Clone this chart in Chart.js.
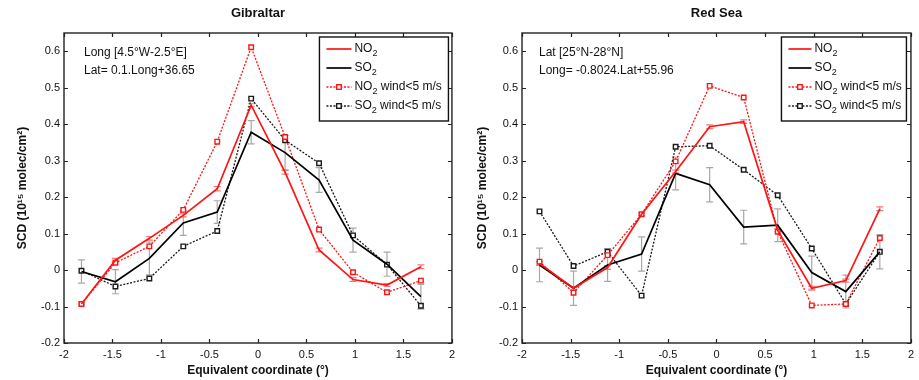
<!DOCTYPE html>
<html>
<head>
<meta charset="utf-8">
<script src="https://cdn.jsdelivr.net/npm/chart.js@4.4.1/dist/chart.umd.min.js"></script>
<style>
  html, body { margin: 0; padding: 0; background: #fff; }
  #wrap { position: relative; width: 919px; height: 380px; }
  canvas { position: absolute; top: 0; }
</style>
</head>
<body>
<div id="wrap">
  <canvas id="c1" width="460" height="380" style="left:0px"></canvas>
  <canvas id="c2" width="459" height="380" style="left:460px"></canvas>
</div>
<script>
// ---------- DATA ----------
const xPos = [-1.82, -1.47, -1.12, -0.77, -0.42, -0.07, 0.28, 0.63, 0.98, 1.33, 1.68];

const xTicks = [-2, -1.5, -1, -0.5, 0, 0.5, 1, 1.5, 2];
const yTicks = [-0.2, -0.1, 0, 0.1, 0.2, 0.3, 0.4, 0.5, 0.6];

const seriesNames = ['NO2', 'SO2', 'NO2 wind<5 m/s', 'SO2 wind<5 m/s'];

// Gibraltar
const gibNO2      = [-0.093, 0.027, 0.087, 0.15, 0.223, 0.452, 0.268, 0.055, -0.026, -0.041, 0.009];
const gibSO2      = [-0.004, -0.032, 0.032, 0.129, 0.159, 0.378, 0.322, 0.247, 0.082, 0.016, -0.073];
const gibNO2wind  = [-0.093, 0.02, 0.065, 0.165, 0.352, 0.611, 0.365, 0.111, -0.006, -0.061, -0.029];
const gibSO2wind  = [-0.002, -0.045, -0.023, 0.065, 0.107, 0.47, 0.356, 0.293, 0.095, 0.015, -0.098];
const gibNO2err   = [0.003, 0.005, 0.005, 0.004, 0.006, 0.004, 0.005, 0.005, 0.005, 0.004, 0.005];
const gibSO2err   = [0.032, 0.033, 0.045, 0.034, 0.031, 0.032, 0.047, 0.034, 0.033, 0.033, 0.034];

// Red Sea
const rsNO2       = [0.018, -0.05, 0.007, 0.153, 0.27, 0.393, 0.407, 0.109, -0.05, -0.029, 0.168];
const rsSO2       = [0.014, -0.05, 0.014, 0.044, 0.265, 0.234, 0.118, 0.123, -0.007, -0.059, 0.05];
const rsNO2wind   = [0.023, -0.062, 0.041, 0.153, 0.298, 0.505, 0.473, 0.105, -0.097, -0.093, 0.088];
const rsSO2wind   = [0.161, 0.011, 0.05, -0.07, 0.338, 0.341, 0.275, 0.205, 0.059, -0.093, 0.05];
const rsNO2err    = [0.005, 0.004, 0.005, 0.004, 0.004, 0.005, 0.005, 0.004, 0.005, 0.004, 0.005];
const rsSO2err    = [0.046, 0.047, 0.045, 0.047, 0.045, 0.047, 0.046, 0.045, 0.045, 0.045, 0.047];

// ---------- STYLE ----------
const RED = '#ff1414';
const BLACK = '#000000';
const FONT = '"Liberation Sans", Arial, sans-serif';

function pts(ys) { return xPos.map((x, i) => ({ x: x, y: ys[i] })); }

function makeDatasets(no2, so2, no2w, so2w) {
  return [
    { label: seriesNames[0], data: pts(no2), borderColor: RED, borderWidth: 1.7, pointRadius: 0, tension: 0 },
    { label: seriesNames[1], data: pts(so2), borderColor: BLACK, borderWidth: 1.7, pointRadius: 0, tension: 0 },
    { label: seriesNames[2], data: pts(no2w), borderColor: RED, borderWidth: 1.3, borderDash: [2, 1.5],
      pointStyle: 'rect', pointRadius: 3.2, pointBorderWidth: 1.4, pointBorderColor: RED, pointBackgroundColor: '#fff', tension: 0 },
    { label: seriesNames[3], data: pts(so2w), borderColor: '#1a1a1a', borderWidth: 1.3, borderDash: [2, 1.5],
      pointStyle: 'rect', pointRadius: 3.2, pointBorderWidth: 1.4, pointBorderColor: '#1a1a1a', pointBackgroundColor: '#fff', tension: 0 }
  ];
}

// error bars plugin (drawn behind lines)
const errorBarPlugin = {
  id: 'errorBars',
  beforeDatasetsDraw(chart, args, opts) {
    const { ctx, scales: { x, y } } = chart;
    ctx.save();
    const draw = (vals, errs, color) => {
      ctx.strokeStyle = color;
      ctx.lineWidth = 1.2;
      vals.forEach((v, i) => {
        const px = x.getPixelForValue(xPos[i]);
        const top = y.getPixelForValue(v + errs[i]);
        const bot = y.getPixelForValue(v - errs[i]);
        ctx.beginPath();
        ctx.moveTo(px, top); ctx.lineTo(px, bot);
        ctx.moveTo(px - 3.5, top); ctx.lineTo(px + 3.5, top);
        ctx.moveTo(px - 3.5, bot); ctx.lineTo(px + 3.5, bot);
        ctx.stroke();
      });
    };
    draw(opts.so2, opts.so2err, '#a8a8a8');
    draw(opts.no2, opts.no2err, '#f07a7a');
    ctx.restore();
  }
};

// frame, inward ticks, legend box, annotation
const framePlugin = {
  id: 'frameDeco',
  afterDraw(chart, args, opts) {
    const { ctx, chartArea: a, scales: { x, y } } = chart;
    ctx.save();
    ctx.strokeStyle = '#222';
    ctx.lineWidth = 1.4;
    ctx.strokeRect(a.left, a.top, a.right - a.left, a.bottom - a.top);
    ctx.beginPath();
    const T = 4;
    yTicks.forEach(v => {
      const py = Math.round(y.getPixelForValue(v)) + 0.5;
      ctx.moveTo(a.left, py); ctx.lineTo(a.left + T, py);
      ctx.moveTo(a.right, py); ctx.lineTo(a.right - T, py);
    });
    xTicks.forEach(v => {
      const px = Math.round(x.getPixelForValue(v)) + 0.5;
      ctx.moveTo(px, a.bottom); ctx.lineTo(px, a.bottom - T);
      ctx.moveTo(px, a.top); ctx.lineTo(px, a.top + T);
    });
    ctx.lineWidth = 1.2;
    ctx.stroke();

    // annotation text
    ctx.fillStyle = '#111';
    ctx.font = '12px ' + FONT;
    ctx.textBaseline = 'middle';
    ctx.textAlign = 'left';
    ctx.fillText(opts.note[0], a.left + opts.noteDx, a.top + 20);
    ctx.fillText(opts.note[1], a.left + opts.noteDx, a.top + 37.5);

    // legend
    const L = opts.legend;
    const lx = a.right - L.rightGap - L.w, ly = a.top + 4;
    ctx.fillStyle = '#fff';
    ctx.fillRect(lx, ly, L.w, L.h);
    ctx.strokeStyle = '#111';
    ctx.lineWidth = 1.4;
    ctx.strokeRect(lx, ly, L.w, L.h);
    const rows = [
      { color: RED, dash: [], w: 1.7, marker: false, base: 'NO', rest: '' },
      { color: BLACK, dash: [], w: 1.7, marker: false, base: 'SO', rest: '' },
      { color: RED, dash: [2, 1.5], w: 1.3, marker: true, base: 'NO', rest: ' wind<5 m/s' },
      { color: '#1a1a1a', dash: [2, 1.5], w: 1.3, marker: true, base: 'SO', rest: ' wind<5 m/s' }
    ];
    rows.forEach((r, i) => {
      const cy = ly + 12 + i * 19;
      const x0 = lx + 7, x1 = lx + L.sample;
      ctx.strokeStyle = r.color;
      ctx.lineWidth = r.w;
      ctx.setLineDash(r.dash);
      ctx.beginPath(); ctx.moveTo(x0, cy); ctx.lineTo(x1, cy); ctx.stroke();
      ctx.setLineDash([]);
      if (r.marker) {
        const mx = (x0 + x1) / 2;
        ctx.fillStyle = '#fff';
        ctx.fillRect(mx - 2.3, cy - 2.3, 4.6, 4.6);
        ctx.lineWidth = 1.4;
        ctx.strokeRect(mx - 2.3, cy - 2.3, 4.6, 4.6);
      }
      ctx.fillStyle = '#111';
      ctx.font = '12px ' + FONT;
      ctx.textBaseline = 'middle';
      let tx = x1 + 3;
      ctx.fillText(r.base, tx, cy);
      tx += ctx.measureText(r.base).width;
      ctx.font = '9px ' + FONT;
      ctx.fillText('2', tx, cy + 5);
      tx += ctx.measureText('2').width;
      ctx.font = '12px ' + FONT;
      if (r.rest) ctx.fillText(r.rest, tx, cy);
    });
    ctx.restore();
  }
};

function fmt(v) { return String(Number(Number(v).toFixed(2))); }

function buildChart(id, title, sets, errs, note, noteDx, yAxisWidth, rightPad, legend) {
  return new Chart(document.getElementById(id), {
    type: 'line',
    data: { datasets: sets },
    plugins: [errorBarPlugin, framePlugin],
    options: {
      responsive: false,
      animation: false,
      devicePixelRatio: 1,
      layout: { padding: { left: 0, right: rightPad, top: 0, bottom: 0 } },
      plugins: {
        legend: { display: false },
        tooltip: { enabled: false },
        title: {
          display: true, text: title, fullSize: false, color: '#111',
          font: { family: FONT, size: 13, weight: 'bold', lineHeight: 1.2 },
          padding: { top: 6, bottom: 11.4 }
        },
        errorBars: errs,
        frameDeco: { note: note, noteDx: noteDx, legend: legend }
      },
      scales: {
        x: {
          type: 'linear', min: -2, max: 2,
          grid: { display: false, drawTicks: false },
          border: { display: false },
          afterBuildTicks: s => { s.ticks = xTicks.map(v => ({ value: v })); },
          afterFit: s => { s.height = 37; },
          ticks: { color: '#111', font: { family: FONT, size: 11 }, padding: 5, callback: fmt, maxRotation: 0, autoSkip: false },
          title: { display: true, text: 'Equivalent coordinate (°)', color: '#111',
                   font: { family: FONT, size: 12, weight: 'bold', lineHeight: 1.2 }, padding: { top: 0, bottom: 2 } }
        },
        y: {
          type: 'linear', min: -0.2, max: 0.65,
          grid: { display: false, drawTicks: false },
          border: { display: false },
          afterBuildTicks: s => { s.ticks = yTicks.map(v => ({ value: v })); },
          afterFit: s => { s.width = yAxisWidth; },
          ticks: { color: '#111', font: { family: FONT, size: 11 }, padding: 4, callback: fmt, autoSkip: false },
          title: { display: true, text: 'SCD (10¹⁵ molec/cm²)', color: '#111',
                   font: { family: FONT, size: 12, weight: 'bold', lineHeight: 1.2 }, padding: { top: 15, bottom: 0 } }
        }
      }
    }
  });
}

buildChart('c1', 'Gibraltar',
  makeDatasets(gibNO2, gibSO2, gibNO2wind, gibSO2wind),
  { no2: gibNO2, no2err: gibNO2err, so2: gibSO2, so2err: gibSO2err },
  ['Long [4.5°W-2.5°E]', 'Lat= 0.1.Long+36.65'], 20,
  64, 5, { w: 129, h: 84, rightGap: 3.5, sample: 32 });

buildChart('c2', 'Red Sea',
  makeDatasets(rsNO2, rsSO2, rsNO2wind, rsSO2wind),
  { no2: rsNO2, no2err: rsNO2err, so2: rsSO2, so2err: rsSO2err },
  ['Lat [25°N-28°N]', 'Long= -0.8024.Lat+55.96'], 17,
  62, 6, { w: 125, h: 84, rightGap: 4.5, sample: 30 });
</script>
</body>
</html>
